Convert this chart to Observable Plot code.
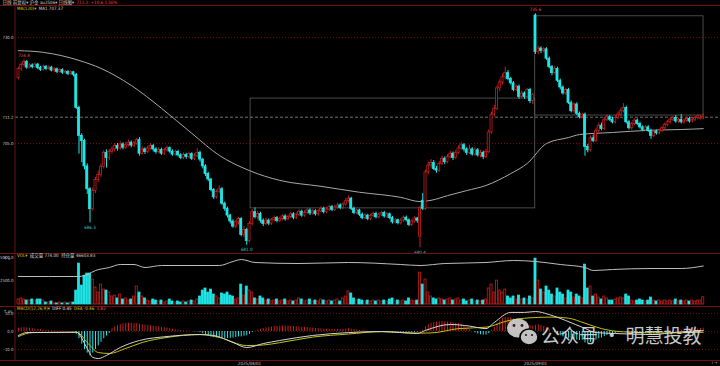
<!DOCTYPE html>
<html><head><meta charset="utf-8">
<script src="https://cdn.jsdelivr.net/npm/d3@7"></script>
<script src="https://cdn.jsdelivr.net/npm/@observablehq/plot@0.6"></script>
<style>
html,body{margin:0;padding:0;background:#000;}
#wrap{position:relative;width:720px;height:366px;overflow:hidden;background:#000;font-family:"Liberation Sans Narrow","DejaVu Sans Condensed","Noto Sans CJK SC",sans-serif;}
#wrap svg{position:absolute;left:0;}
</style></head><body><div id="wrap"></div>
<script>
// ---------- data ----------
const O = [
720.4,722.6,723.5,724.2,722.9,723.4,723.0,723.6,722.8,722.4,
723.1,722.6,722.9,722.2,722.5,721.9,722.3,721.7,721.9,721.4,
721.8,721.2,713.4,706.8,705.6,699.6,694.2,689.5,693.8,696.4,
697.6,699.5,702.8,701.6,703.0,703.6,704.4,703.8,704.8,704.0,
704.6,705.2,704.5,705.0,705.8,702.6,703.6,703.0,703.8,704.4,
703.6,703.0,703.5,702.6,703.4,703.9,703.1,702.4,703.0,702.2,
701.6,702.3,701.8,702.5,701.4,702.0,702.8,701.2,699.6,697.8,
696.5,694.0,692.3,693.6,694.2,690.8,689.6,688.0,686.6,685.4,
686.4,687.2,683.4,684.6,682.0,686.0,688.8,687.6,688.4,686.8,
686.0,686.8,686.1,686.9,687.4,686.7,687.2,687.8,687.1,687.7,
688.3,687.5,688.2,688.9,688.0,688.6,689.2,688.5,689.0,688.3,
689.0,689.6,688.8,689.4,690.0,689.3,689.9,690.4,689.8,690.6,
691.4,692.0,689.6,688.6,689.2,688.2,687.4,688.0,687.2,687.9,
688.4,687.6,688.2,688.6,687.8,688.3,687.4,686.4,686.9,686.2,
686.8,687.5,686.9,685.8,686.6,687.3,683.0,691.5,689.6,698.2,
699.8,700.4,699.0,698.6,700.2,701.4,700.6,701.8,702.6,701.6,
702.8,703.8,704.6,703.6,702.8,703.6,702.4,703.4,702.2,702.8,
701.8,703.0,707.6,711.8,713.2,718.0,719.4,720.6,721.6,720.2,
719.2,717.6,718.4,716.0,716.8,716.0,717.6,715.0,735.2,726.6,
727.4,726.8,727.2,725.0,723.0,721.6,722.6,719.8,718.2,716.8,
717.6,714.6,712.6,714.2,712.0,711.2,711.8,704.2,703.4,706.2,
705.6,708.0,709.2,708.4,710.6,711.2,710.6,710.0,711.0,711.8,
712.6,713.4,710.0,708.6,709.6,710.4,709.6,708.8,708.2,708.8,
708.0,706.8,707.8,707.4,708.0,708.6,709.4,710.0,710.6,711.0,
710.2,710.6,710.0,710.4,710.8,710.2,710.6,711.0,710.8,710.9];
const H = [
723.0,724.0,724.8,724.6,723.8,723.8,724.0,723.9,723.2,723.5,
723.4,723.3,723.2,722.9,722.8,722.6,722.6,722.3,722.2,722.1,
722.0,721.5,713.8,707.3,706.0,700.2,694.6,694.5,697.0,698.5,
700.2,703.3,703.5,703.6,704.2,705.0,705.0,705.4,705.2,705.3,
705.8,705.6,705.5,706.2,706.4,704.2,704.0,704.3,705.0,704.8,
704.0,704.0,703.9,703.8,704.4,704.2,703.5,703.5,703.4,702.6,
702.8,702.7,703.0,702.8,702.6,703.8,703.2,701.5,700.0,698.2,
696.8,694.4,694.0,695.0,694.6,691.2,690.0,688.3,687.0,686.9,
687.6,687.5,685.4,685.0,686.6,689.4,689.8,689.0,688.8,687.2,
687.4,687.2,687.3,687.9,687.8,687.6,688.2,688.2,688.1,688.8,
688.7,688.6,689.4,689.3,689.1,689.7,689.6,689.5,689.4,689.4,
690.1,690.0,689.9,690.5,690.4,690.4,690.9,690.8,691.1,692.0,
692.6,692.3,690.0,689.6,689.5,688.6,688.4,688.3,688.3,688.8,
688.8,688.6,689.0,689.0,688.7,688.6,687.8,687.3,687.2,687.2,
687.9,687.9,687.2,687.0,687.7,687.6,690.2,693.2,698.8,700.6,
701.2,701.0,699.6,700.8,702.0,701.8,702.4,703.2,703.0,703.4,
704.4,705.2,705.0,704.0,704.6,704.0,704.0,703.8,703.4,703.2,
703.6,708.2,712.4,714.0,718.6,720.0,721.4,723.0,722.2,720.6,
719.6,718.8,718.8,717.4,717.2,718.0,718.0,716.8,735.6,728.0,
727.8,727.6,727.6,725.4,723.4,723.2,723.0,720.2,718.6,718.0,
718.0,715.0,714.6,714.6,712.4,712.2,712.2,704.8,706.8,707.0,
708.6,709.8,709.8,711.2,711.8,711.6,711.2,711.6,712.4,713.2,
714.4,713.8,710.4,710.0,710.8,710.8,710.0,709.2,709.2,709.2,
708.4,708.2,708.2,708.4,709.0,709.8,710.4,711.0,711.4,711.6,
711.0,711.8,710.8,711.2,711.2,711.0,711.4,711.8,711.6,712.0];
const L = [
720.0,722.0,723.0,722.5,722.6,722.6,722.8,722.4,722.0,722.1,
722.2,722.3,721.9,721.8,721.5,721.6,721.3,721.3,721.0,721.1,
720.7,713.0,702.5,700.5,698.8,693.0,686.3,689.0,693.2,695.8,
697.0,699.0,699.2,701.0,702.5,703.0,703.2,703.4,703.5,703.6,
704.2,704.0,704.1,704.6,702.0,702.2,702.4,702.6,703.4,703.0,
702.5,702.6,702.2,702.2,703.0,702.7,702.0,702.0,701.8,701.2,
701.2,701.3,701.4,701.0,701.0,701.6,700.6,699.0,697.2,696.0,
693.6,691.8,691.9,693.2,690.4,689.0,687.4,686.0,685.0,685.0,
685.8,683.0,682.8,681.0,681.6,685.6,687.2,687.0,686.2,685.4,
685.6,685.6,685.7,686.5,686.3,686.3,686.8,686.7,686.8,687.3,
687.0,687.1,687.8,687.6,687.6,688.2,688.0,688.1,687.9,687.9,
688.6,688.4,688.4,689.0,688.9,688.9,689.5,689.4,689.4,690.2,
691.0,689.2,688.2,688.2,687.8,687.0,687.0,686.8,686.8,687.5,
687.2,687.2,687.8,687.4,687.4,687.0,686.0,686.0,685.8,685.8,
686.4,686.5,685.4,685.4,686.2,686.2,680.4,689.2,689.2,697.6,
699.2,698.6,698.0,698.2,699.8,700.0,700.2,701.4,701.0,701.2,
702.4,703.4,703.0,702.2,702.4,702.0,702.0,701.8,701.6,701.2,
701.4,702.6,707.2,711.2,712.8,717.2,718.8,720.0,719.8,718.8,
717.2,717.2,715.4,715.6,715.4,715.6,714.4,714.2,726.0,726.0,
726.2,726.4,724.6,722.6,721.0,721.2,719.4,717.6,716.4,716.4,
714.2,712.2,712.2,711.6,710.8,710.8,702.0,702.8,703.0,705.2,
705.2,707.6,708.0,708.0,710.2,710.2,709.6,709.6,710.6,711.4,
712.2,709.6,708.2,708.2,709.2,709.2,708.4,707.8,707.8,707.6,
706.0,706.4,707.0,707.0,707.6,708.2,709.0,709.6,710.2,709.8,
709.8,709.6,709.6,710.0,709.8,709.8,710.2,710.6,710.6,710.6];
const C = [
722.6,723.5,724.2,722.9,723.4,723.0,723.6,722.8,722.4,723.1,
722.6,722.9,722.2,722.5,721.9,722.3,721.7,721.9,721.4,721.8,
721.2,713.4,706.8,705.6,699.6,694.2,689.5,693.8,696.4,697.6,
699.5,702.8,701.6,703.0,703.6,704.4,703.8,704.8,704.0,704.6,
705.2,704.5,705.0,705.8,702.6,703.6,703.0,703.8,704.4,703.6,
703.0,703.5,702.6,703.4,703.9,703.1,702.4,703.0,702.2,701.6,
702.3,701.8,702.5,701.4,702.0,702.8,701.2,699.6,697.8,696.5,
694.0,692.3,693.6,694.2,690.8,689.6,688.0,686.6,685.4,686.4,
687.2,683.4,684.6,682.0,686.0,688.8,687.6,688.4,686.8,686.0,
686.8,686.1,686.9,687.4,686.7,687.2,687.8,687.1,687.7,688.3,
687.5,688.2,688.9,688.0,688.6,689.2,688.5,689.0,688.3,689.0,
689.6,688.8,689.4,690.0,689.3,689.9,690.4,689.8,690.6,691.4,
692.0,689.6,688.6,689.2,688.2,687.4,688.0,687.2,687.9,688.4,
687.6,688.2,688.6,687.8,688.3,687.4,686.4,686.9,686.2,686.8,
687.5,686.9,685.8,686.6,687.3,686.8,689.8,689.6,698.2,699.8,
700.4,699.0,698.6,700.2,701.4,700.6,701.8,702.6,701.6,702.8,
703.8,704.6,703.6,702.8,703.6,702.4,703.4,702.2,702.8,701.8,
703.0,707.6,711.8,713.2,718.0,719.4,720.6,721.6,720.2,719.2,
717.6,718.4,716.0,716.8,716.0,717.6,715.0,716.4,726.6,727.4,
726.8,727.2,725.0,723.0,721.6,722.6,719.8,718.2,716.8,717.6,
714.6,712.6,714.2,712.0,711.2,711.8,704.2,703.4,706.2,705.6,
708.0,709.2,708.4,710.6,711.2,710.6,710.0,711.0,711.8,712.6,
713.4,710.0,708.6,709.6,710.4,709.6,708.8,708.2,708.8,708.0,
706.8,707.8,707.4,708.0,708.6,709.4,710.0,710.6,711.0,710.2,
710.6,710.0,710.4,710.8,710.2,710.6,711.0,711.4,711.1,711.2];
const VOL = [
530,640,530,420,420,530,420,530,530,420,
210,210,320,110,110,210,110,210,110,210,
210,1480,4350,2010,3070,3290,3290,2650,1800,1270,
2120,1590,1480,1270,850,950,640,1060,530,640,
420,530,850,1910,1270,850,640,420,320,530,
420,320,420,210,320,530,320,210,320,210,
320,210,320,420,320,530,850,1480,1700,1270,
1590,1060,850,640,1170,1060,1270,950,850,530,
640,2120,950,1910,1480,1270,640,530,850,640,
420,530,320,420,530,320,420,530,320,420,
320,420,640,530,320,420,530,320,420,320,
530,420,320,420,320,420,530,320,640,850,
1380,1170,640,420,530,420,320,420,320,420,
320,420,320,420,320,530,640,320,420,320,
420,320,640,420,320,420,3390,2120,2650,1270,
850,640,530,640,530,420,530,640,420,530,
640,420,530,320,420,530,320,420,320,420,
530,1700,2120,1270,2540,1480,1270,1590,850,640,
850,530,950,530,640,530,850,640,4880,2540,
1590,1270,1910,1480,1060,850,1700,1270,1060,640,
1480,1270,740,1060,850,640,4240,1700,1910,850,
1060,740,530,850,640,420,420,530,640,740,
640,1060,850,420,320,420,530,420,320,420,
740,420,320,420,320,420,320,420,320,530,
320,420,320,420,320,420,320,420,420,774];
const MACD = [
1.8,2.0,2.2,2.0,1.8,1.6,1.4,1.2,1.0,0.8,
0.6,0.5,0.4,0.3,0.3,0.2,0.2,0.1,0.1,0.0,
-0.1,-1.5,-4.0,-7.0,-10.0,-12.0,-13.5,-12.0,-10.0,-8.0,
-6.0,-4.0,-2.5,-1.0,1.5,2.5,3.3,3.9,4.3,4.5,
4.6,4.5,4.4,4.4,4.0,3.8,3.6,3.4,3.2,3.0,
2.8,2.6,2.3,2.1,1.9,1.6,1.3,1.0,0.7,0.5,
0.3,0.2,0.1,0.0,-0.2,-0.2,-0.6,-1.2,-1.8,-2.4,
-3.0,-3.4,-3.4,-3.3,-3.6,-3.8,-3.9,-3.8,-3.6,-3.3,
-3.0,-3.0,-2.6,-2.4,-1.6,-0.6,0.2,0.8,1.3,1.7,
2.0,2.3,2.5,2.7,2.8,2.9,3.0,3.0,3.0,2.9,
2.8,2.7,2.6,2.4,2.3,2.2,2.0,1.9,1.7,1.6,
1.5,1.4,1.3,1.3,1.2,1.2,1.2,1.1,1.2,1.4,
1.6,1.3,1.0,0.8,0.6,0.4,0.3,0.2,0.1,0.1,
0.0,-0.1,-0.1,-0.2,-0.2,-0.3,-0.4,-0.4,-0.5,-0.5,
-0.4,-0.4,-0.5,-0.5,-0.4,-0.4,0.2,0.8,2.6,3.8,
4.6,5.0,5.2,5.4,5.5,5.4,5.3,5.2,4.9,4.6,
4.4,4.2,3.0,2.0,1.0,0.0,-0.8,-1.4,-1.8,-2.0,
-2.0,-1.2,0.6,2.2,4.6,6.2,7.2,7.8,7.8,7.6,
7.0,6.6,5.8,5.2,4.6,4.2,3.4,3.0,3.4,3.8,
3.4,2.8,2.0,1.0,0.0,-0.6,-1.6,-2.4,-3.0,-3.2,
-3.8,-4.4,-4.4,-4.8,-5.0,-4.8,-6.4,-6.8,-6.0,-5.6,
-4.8,-4.0,-3.6,-2.8,-2.2,-1.8,-1.5,-1.1,-0.7,-0.3,
0.1,-0.4,-0.9,-1.0,-0.9,-1.0,-1.1,-1.2,-1.1,-1.2,
-1.5,-1.3,-1.2,-1.0,-0.8,-0.5,-0.2,0.1,0.3,0.3,
0.6,0.7,0.8,0.9,1.0,1.2,1.3,1.5,1.6,1.82];
// sparse line readings: [bar index, value]
const maLine = [[0,726.9],[9,726.5],[22,724.6],[30,722.7],[41,718.7],[52,713.3],[63,707.4],[73,702.2],[84,698.6],[95,696.3],[110,694.9],[124,693.5],[139,692.3],[146,691.3],[150,691.6],[156,692.7],[163,693.9],[170,695.1],[179,697.9],[185,700.3],[192,705.0],[200,706.4],[204,707.1],[216,707.6],[229,708.1],[241,708.3],[249,708.5]];
const oiLine = [[0,42400],[22,42400],[25,43200],[28,44800],[33,46000],[37,47200],[42,47200],[46,46000],[52,46800],[66,46800],[73,46800],[78,48400],[81,49200],[86,48000],[102,47600],[120,48000],[139,47200],[146,46800],[155,47600],[170,48000],[180,48800],[188,48400],[197,47200],[206,46000],[209,44800],[216,45200],[230,45600],[241,45600],[249,46600]];
const difLine = [[0,-2.2],[3,-0.6],[21,-0.4],[25,-9.4],[27,-14.4],[29,-15.0],[32,-13.3],[37,-8.9],[44,-5.0],[54,-2.8],[66,-1.7],[71,-2.2],[78,-6.1],[83,-8.9],[89,-6.7],[95,-5.0],[107,-2.2],[120,-0.6],[132,0],[145,-1.1],[148,0.6],[157,3.9],[164,3.0],[170,1.6],[173,5.0],[179,10.6],[184,10.6],[188,11.1],[193,9.4],[199,6.1],[206,1.7],[210,-0.6],[217,-1.1],[230,-1.7],[240,-0.3],[249,0.45]];
const deaLine = [[0,-2.8],[5,-0.6],[21,-0.4],[26,-7.8],[29,-11.7],[33,-12.2],[39,-9.4],[45,-6.1],[54,-3.3],[66,-1.7],[73,-3.3],[83,-7.8],[89,-7.5],[95,-6.2],[107,-3.1],[120,-1.4],[132,-0.1],[145,-0.9],[150,-0.8],[160,1.6],[170,2.4],[178,6.0],[186,7.6],[194,8.0],[200,7.4],[206,4.6],[212,1.6],[220,-0.2],[235,-0.8],[249,-0.46]];
const boxes = [{i1:84.4,i2:187.9,top:715.6,bottom:689.7},{i1:187.9,i2:249.1,top:735.0,bottom:711.6}];
const highMarks = [2,188];
const lowMarks = [26,83,146];
const priceTicks = [730,711.2,705];
const gridPrices = [730,705];
const lastPrice = 711.2;
const volTicks = [5000,2500];
const macdTicks = [10,0,-10];
const dateTicks = [84,188];
const dateLabels = ["2025/04/01","2025/09/01"];
const headerText = {
  title:"日线 前复权▾ 沪金 au2506▾ 日线图▾", price:"711.2", change:"+10.6  1.50%",
  ma:"MA(120)▾", ma1:"MA1 707.37",
  vol:"VOL▾", volv:"成交量 774.00", oi:"持仓量 46603.83",
  macd:"MACD(12,26,9)▾", dif:"DIFF 0.45", dea:"DEA -0.46", hist:"1.82",
  watermark:"公众号 · 明慧投教"
};
// ---------- build ----------
const N = C.length;
[O,H,L,VOL,MACD].forEach((a,k)=>{ if(a.length!==N) throw new Error("len mismatch "+k+" "+a.length); });
const bars = d3.range(N).map(i=>({i,o:O[i],h:H[i],l:L[i],c:C[i],v:VOL[i],m:MACD[i]}));
const RED="#c41e1e", CYAN="#1fe6e6", GRID="#6a0c0c";
const isUp = d => d.c >= d.o;
const X = {domain:[0,N-1], range:[18,702.75], axis:null};
const FONT = "Liberation Sans Narrow, DejaVu Sans Condensed, Noto Sans CJK SC, sans-serif";
const base = {width:720, marginLeft:15, marginRight:0, marginTop:0, marginBottom:0,
  style:{background:"transparent", fontFamily:FONT, overflow:"visible"}, color:{type:"identity"}};
const wrap = document.getElementById("wrap");
function place(svg, top){ svg.style.position="absolute"; svg.style.top=top+"px"; svg.style.left="0px"; svg.style.maxWidth="none"; wrap.appendChild(svg); }
const AX = {tickSize:0,tickPadding:2,fontSize:4.3,color:"#c4c4c4"};

const pricePlot = Plot.plot({...base, height:248, x:X,
  y:{domain:[730,705], range:[32,138], axis:null},
  marks:[
    Plot.ruleY(gridPrices,{stroke:GRID, strokeDasharray:"1,2"}),
    Plot.ruleY([lastPrice],{stroke:"#8c8c8c", strokeDasharray:"3,2", strokeWidth:0.8}),
    Plot.rect(boxes,{x1:"i1",x2:"i2",y1:"top",y2:"bottom",fill:"none",stroke:"#5c5c5c",strokeWidth:0.8}),
    Plot.line(maLine,{x:d=>d[0],y:d=>d[1],stroke:"#a8a8a8",strokeWidth:1,curve:"monotone-x"}),
    Plot.ruleX(bars,{x:"i",y1:"l",y2:"h",stroke:d=>isUp(d)?RED:CYAN,strokeWidth:1}),
    Plot.rect(bars,{x1:d=>d.i-0.37,x2:d=>d.i+0.37,y1:"o",y2:"c",fill:d=>isUp(d)?"#000":CYAN,stroke:d=>isUp(d)?RED:CYAN,strokeWidth:0.8}),
    Plot.text(highMarks,{x:d=>d,y:d=>H[d],text:d=>H[d].toFixed(1),dy:-4,fill:"#e25252",fontSize:4.5}),
    Plot.text(lowMarks,{x:d=>d,y:d=>L[d],text:d=>L[d].toFixed(1),dy:4.5,fill:"#3cc8c8",fontSize:4.5}),
    Plot.axisY({ticks:priceTicks,tickFormat:d=>d.toFixed(1),...AX})
  ]});
place(pricePlot,5);

const volPlot = Plot.plot({...base, height:51, x:X,
  y:{domain:[0,5000], range:[51,4], axis:null},
  marks:[
    Plot.rect(bars,{x1:d=>d.i-0.37,x2:d=>d.i+0.37,y1:0,y2:"v",fill:d=>isUp(d)?"#000":CYAN,stroke:d=>isUp(d)?RED:CYAN,strokeWidth:0.8}),
    Plot.axisY({ticks:volTicks,tickFormat:d=>d.toFixed(1),...AX})
  ]});
place(volPlot,253);

const oiPlot = Plot.plot({...base, height:51, x:X,
  y:{domain:[40000,50000], range:[29,4], axis:null},
  marks:[ Plot.line(oiLine,{x:d=>d[0],y:d=>d[1],stroke:"#bdbdbd",strokeWidth:1,curve:"monotone-x"}) ]});
place(oiPlot,253);

const macdPlot = Plot.plot({...base, height:60, marginBottom:6, x:X,
  y:{domain:[10,-10], range:[7,43], axis:null},
  marks:[
    Plot.ruleY(macdTicks,{stroke:GRID, strokeDasharray:"1,2"}),
    Plot.ruleX(bars,{x:"i",y1:0,y2:"m",stroke:d=>d.m>=0?RED:CYAN,strokeWidth:1}),
    Plot.line(deaLine,{x:d=>d[0],y:d=>d[1],stroke:"#c2c210",strokeWidth:1,curve:"monotone-x"}),
    Plot.line(difLine,{x:d=>d[0],y:d=>d[1],stroke:"#d4d4d4",strokeWidth:1,curve:"monotone-x"}),
    Plot.axisY({ticks:macdTicks,tickFormat:d=>d.toFixed(1),...AX}),
    Plot.axisX({ticks:dateTicks,tickFormat:d=>dateLabels[dateTicks.indexOf(d)],tickSize:0,tickPadding:1.5,fontSize:4.5,color:"#c4c4c4"})
  ]});
place(macdPlot,306);

// ---------- frame, headers, watermark ----------
const deco = d3.create("svg").attr("width",720).attr("height",366).style("position","absolute").style("top","0px").style("left","0px").style("font-family",FONT);
wrap.appendChild(deco.node());
[[0,5,720,5],[15,5,15,360],[0,253,720,253],[0,306,720,306],[0,360,720,360]].forEach(([a,b,c,e])=>
  deco.append("line").attr("x1",a).attr("y1",b+0.5).attr("x2",c).attr("y2",e+0.5).attr("stroke","#701010").attr("stroke-width",1));
// lay a row of header texts left to right without overlaps
function row(y, items){
  let end = 0;
  items.forEach(([s, fill, minX]) => {
    const x = Math.max(minX, end + 2.5);
    const el = deco.append("text").attr("x",x).attr("y",y).attr("font-size",4.5).attr("fill",fill).text(s);
    end = x + el.node().getComputedTextLength();
  });
}
row(4, [[headerText.title,"#cfcfcf",2],[headerText.price,"#ff4040",66],[headerText.change,"#ff4040",79]]);
row(9.5, [[headerText.ma,"#d2d200",17],[headerText.ma1,"#d0d0d0",33]]);
row(257, [[headerText.vol,"#d2d200",17],[headerText.volv,"#d0d0d0",27],[headerText.oi,"#d0d0d0",52]]);
row(310, [[headerText.macd,"#d2d200",17],[headerText.dif,"#e0e0e0",45],[headerText.dea,"#d2d200",59],[headerText.hist,"#ff5a5a",75]]);
const wm = deco.append("g").attr("opacity",0.9);
wm.append("ellipse").attr("cx",518).attr("cy",328).attr("rx",11).attr("ry",9.5).attr("fill","#d6d6d6");
wm.append("circle").attr("cx",514).attr("cy",325.5).attr("r",1.4).attr("fill","#222");
wm.append("circle").attr("cx",522).attr("cy",325.5).attr("r",1.4).attr("fill","#222");
wm.append("ellipse").attr("cx",529).attr("cy",337).attr("rx",9).attr("ry",8).attr("fill","#d6d6d6").attr("stroke","#000").attr("stroke-width",1.5);
wm.append("circle").attr("cx",526).attr("cy",335).attr("r",1.1).attr("fill","#222");
wm.append("circle").attr("cx",532).attr("cy",335).attr("r",1.1).attr("fill","#222");
wm.append("text").attr("x",541).attr("y",343).attr("font-size",19).attr("fill","#dcdcdc")
  .attr("font-family","Noto Sans CJK SC, sans-serif").text(headerText.watermark);
</script></body></html>
